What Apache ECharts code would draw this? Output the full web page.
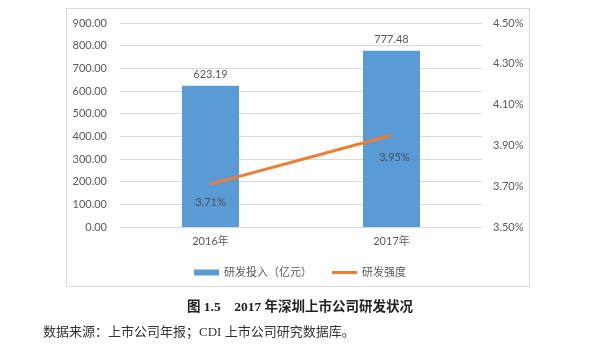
<!DOCTYPE html>
<html>
<head>
<meta charset="utf-8">
<script src="https://cdn.jsdelivr.net/npm/echarts@6/dist/echarts.min.js"></script>
<style>
html,body{margin:0;padding:0;background:#fff;}
#chart{width:600px;height:356px;}
</style>
</head>
<body>
<div id="chart"></div>
<script>
var categories = ['2016年', '2017年'];
var rdInvestment = [623.19, 777.48];
var rdIntensity = [3.71, 3.95];
var seriesNames = ['研发投入（亿元）', '研发强度'];
var captionText = '图 1.5    2017 年深圳上市公司研发状况';
var sourceText = '数据来源：上市公司年报；CDI 上市公司研究数据库。';

var textColor = '#595959';
var gridColor = '#D9D9D9';
var numFont = 'Lato, "Noto Sans CJK SC", sans-serif';
var labelDistances = [12, 16];

var chart = echarts.init(document.getElementById('chart'), null, {renderer: 'canvas'});
chart.setOption({
  animation: false,
  backgroundColor: '#fff',
  graphic: [{
    type: 'rect',
    shape: {x: 66.5, y: 8.5, width: 463, height: 278},
    style: {fill: 'none', stroke: '#D9D9D9', lineWidth: 1},
    silent: true
  }],
  title: [{
    text: captionText,
    left: 'center',
    top: 296,
    textStyle: {fontFamily: '"Liberation Serif", "Noto Sans CJK SC", serif', fontWeight: 'bold', fontSize: 13.5, color: '#222'}
  }, {
    text: sourceText,
    left: 38,
    top: 321,
    textStyle: {fontFamily: '"Liberation Serif", "Noto Sans CJK SC", serif', fontWeight: 'normal', fontSize: 13, color: '#333'}
  }],
  legend: {
    top: 262,
    left: 'center',
    itemWidth: 25,
    itemHeight: 6,
    itemGap: 20,
    symbolKeepAspect: true,
    textStyle: {color: textColor, fontSize: 11, fontFamily: numFont},
    data: [
      {name: seriesNames[0], icon: 'rect'},
      {name: seriesNames[1], icon: 'path://M0,0H25V3H0Z', itemStyle: {color: '#ED7D31'}}
    ]
  },
  grid: {left: 120, right: 118, top: 23, bottom: 129},
  xAxis: {
    type: 'category',
    data: categories,
    axisLine: {lineStyle: {color: gridColor}},
    axisTick: {show: false},
    axisLabel: {color: textColor, fontSize: 11, fontFamily: numFont, margin: 9}
  },
  yAxis: [{
    type: 'value',
    min: 0, max: 900, interval: 100,
    axisLine: {show: false},
    axisTick: {show: false},
    splitLine: {lineStyle: {color: gridColor}},
    axisLabel: {color: textColor, fontSize: 11, fontFamily: numFont, margin: 13,
      formatter: function (v) { return v.toFixed(2); }}
  }, {
    type: 'value',
    min: 3.5, max: 4.5, interval: 0.2,
    axisLine: {show: false},
    axisTick: {show: false},
    splitLine: {show: false},
    axisLabel: {color: textColor, fontSize: 11, fontFamily: numFont, margin: 11,
      formatter: function (v) { return v.toFixed(2) + '%'; }}
  }],
  series: [{
    name: seriesNames[0],
    type: 'bar',
    data: rdInvestment,
    barWidth: 57,
    itemStyle: {color: '#5B9BD5'},
    label: {show: true, position: 'top', distance: 6, color: textColor, fontSize: 11, fontFamily: numFont,
      formatter: function (p) { return p.value.toFixed(2); }}
  }, {
    name: seriesNames[1],
    type: 'line',
    yAxisIndex: 1,
    data: rdIntensity,
    symbol: 'none',
    lineStyle: {color: '#ED7D31', width: 3},
    itemStyle: {color: '#ED7D31'},
    z: 3
  }, {
    name: 'labels',
    type: 'scatter',
    yAxisIndex: 1,
    silent: true,
    symbolSize: 1,
    itemStyle: {color: 'rgba(0,0,0,0)'},
    data: rdIntensity.map(function (v, i) {
      return {value: v, label: {distance: labelDistances[i], offset: [i * 3, 0]}};
    }),
    label: {show: true, position: 'bottom', color: '#404040', fontSize: 11, fontFamily: numFont,
      formatter: function (p) { return p.value.toFixed(2) + '%'; }},
    z: 4
  }]
});
</script>
</body>
</html>
